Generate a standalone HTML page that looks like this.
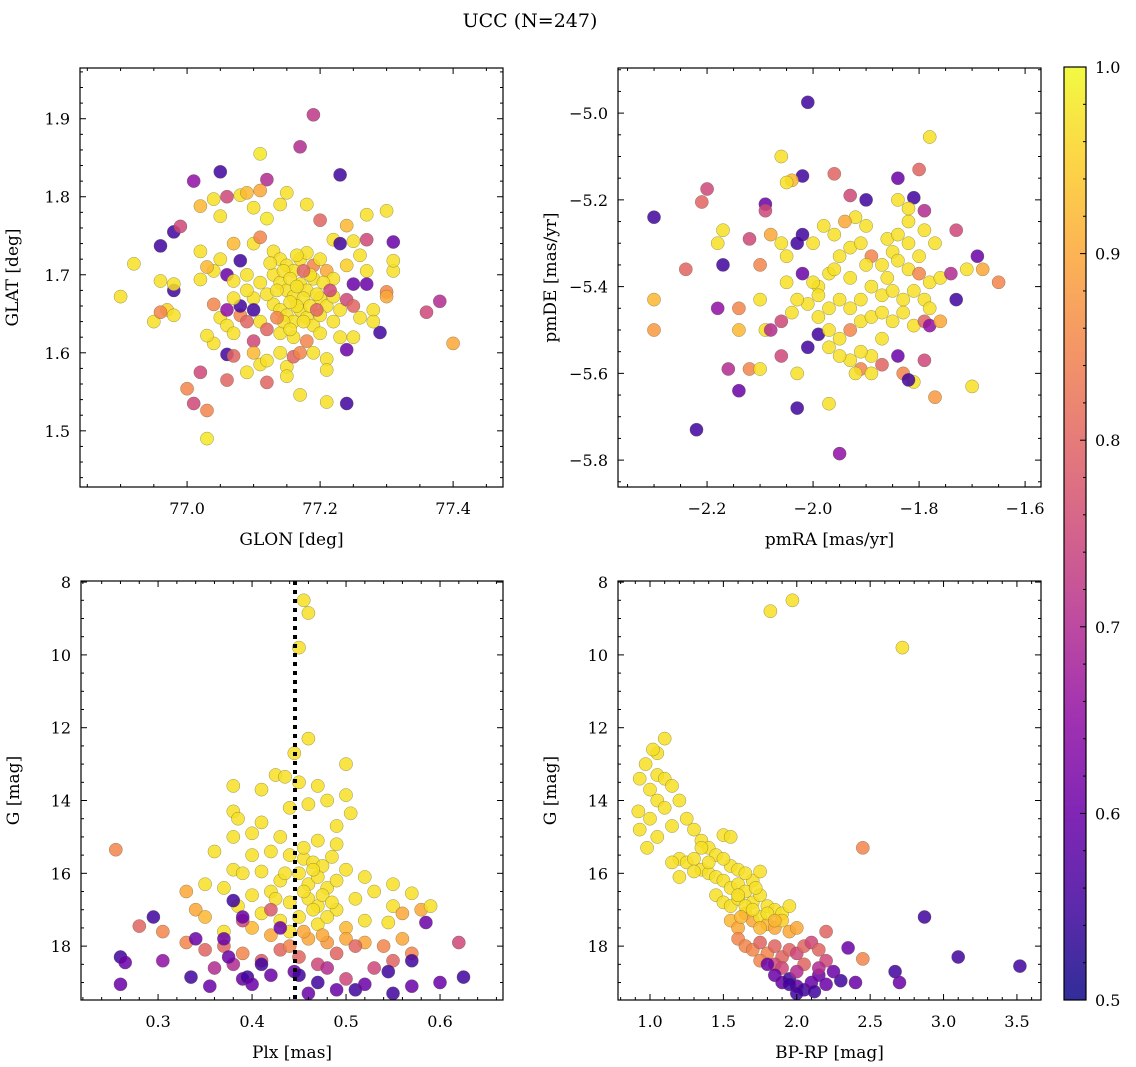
<!DOCTYPE html>
<html><head><meta charset="utf-8"><style>
html,body{margin:0;padding:0;background:#fff;}
svg{display:block;font-family:"DejaVu Serif","Liberation Serif",serif;}
</style></head><body>
<svg id="fig" width="1136" height="1067" viewBox="0 0 1136 1067" xmlns="http://www.w3.org/2000/svg">
<text x="530" y="27" font-size="19" text-anchor="middle">UCC (N=247)</text>
</svg>
<script>
// ---- Panel 1: GLON vs GLAT ----
const glonGlat = [[77.19,1.905,0.72],[77.17,1.864,0.7],[77.23,1.828,0.55],[77.05,1.832,0.55],[77.01,1.82,0.65],[77.11,1.855,0.98],[77.12,1.822,0.7],[76.96,1.737,0.55],[76.98,1.755,0.55],[76.99,1.762,0.75],[76.92,1.714,0.97],[76.9,1.672,0.97],[76.96,1.692,0.97],[76.95,1.64,0.97],[76.97,1.655,0.95],[76.98,1.648,0.97],[76.98,1.68,0.55],[76.96,1.652,0.85],[76.98,1.688,0.97],[77.0,1.554,0.85],[77.01,1.535,0.75],[77.02,1.575,0.75],[77.03,1.526,0.85],[77.03,1.49,0.98],[77.04,1.662,0.85],[77.06,1.598,0.55],[77.07,1.596,0.8],[77.06,1.565,0.8],[77.12,1.562,0.8],[77.36,1.652,0.75],[77.38,1.666,0.7],[77.4,1.612,0.9],[77.31,1.742,0.6],[77.3,1.782,0.97],[77.27,1.777,0.97],[77.24,1.535,0.55],[77.21,1.537,0.97],[77.17,1.546,0.97],[77.29,1.626,0.55],[77.31,1.705,0.97],[77.31,1.718,0.97],[77.3,1.678,0.85],[77.3,1.672,0.9],
[77.02,1.788,0.92],[77.04,1.797,0.97],[77.06,1.8,0.75],[77.08,1.802,0.97],[77.09,1.805,0.92],[77.11,1.808,0.9],[77.05,1.775,0.97],[77.1,1.786,0.97],[77.14,1.79,0.97],[77.12,1.772,0.98],[77.15,1.805,0.97],[77.2,1.77,0.8],[77.18,1.79,0.97],[77.24,1.763,0.92],[77.22,1.745,0.97],[77.25,1.743,0.97],[77.23,1.74,0.55],[77.27,1.745,0.75],[77.26,1.725,0.97],[77.27,1.705,0.97],[77.24,1.712,0.95],[77.25,1.688,0.6],[77.02,1.73,0.97],[77.04,1.705,0.97],[77.05,1.72,0.97],[77.08,1.718,0.55],[77.09,1.7,0.97],[77.1,1.74,0.97],[77.11,1.748,0.85],[77.07,1.74,0.92],[77.13,1.73,0.97],[77.06,1.7,0.6],[77.07,1.692,0.97],[77.03,1.71,0.92],[77.02,1.694,0.97],
[77.14,1.72,0.97],[77.15,1.712,0.97],[77.16,1.705,0.97],[77.17,1.72,0.97],[77.18,1.728,0.97],[77.19,1.712,0.85],[77.2,1.72,0.97],[77.21,1.705,0.9],[77.22,1.695,0.97],[77.13,1.7,0.97],[77.14,1.69,0.97],[77.15,1.68,0.97],[77.16,1.672,0.97],[77.17,1.688,0.97],[77.18,1.68,0.97],[77.19,1.695,0.97],[77.2,1.67,0.97],[77.21,1.66,0.97],[77.22,1.672,0.97],[77.13,1.662,0.97],[77.14,1.655,0.97],[77.15,1.648,0.97],[77.16,1.64,0.97],[77.17,1.655,0.97],[77.18,1.645,0.97],[77.19,1.635,0.97],[77.2,1.648,0.97],[77.12,1.675,0.97],[77.11,1.69,0.97],[77.1,1.67,0.97],[77.1,1.655,0.55],[77.11,1.64,0.97],[77.12,1.63,0.8],[77.14,1.625,0.97],[77.16,1.62,0.97],[77.18,1.615,0.85],[77.2,1.625,0.97],[77.22,1.64,0.97],[77.23,1.655,0.97],[77.24,1.668,0.75],[77.25,1.66,0.8],[77.26,1.645,0.97],[77.23,1.62,0.97],[77.24,1.604,0.6],[77.25,1.62,0.97],[77.28,1.655,0.97],[77.28,1.64,0.97],[77.27,1.688,0.6],
[77.05,1.645,0.97],[77.06,1.635,0.97],[77.07,1.625,0.97],[77.06,1.655,0.65],[77.08,1.648,0.85],[77.08,1.66,0.55],[77.09,1.64,0.8],[77.1,1.615,0.75],[77.1,1.6,0.92],[77.11,1.585,0.97],[77.12,1.59,0.97],[77.14,1.6,0.97],[77.15,1.582,0.97],[77.16,1.595,0.8],[77.17,1.6,0.85],[77.19,1.6,0.97],[77.21,1.592,0.97],[77.21,1.578,0.97],[77.15,1.57,0.97],[77.09,1.575,0.97],[77.04,1.612,0.97],[77.03,1.622,0.97],[77.07,1.67,0.97],[77.09,1.68,0.97],
[77.145,1.705,0.97],[77.155,1.695,0.97],[77.165,1.685,0.97],[77.175,1.67,0.97],[77.185,1.66,0.97],[77.195,1.675,0.97],[77.165,1.66,0.97],[77.155,1.665,0.97],[77.175,1.64,0.97],[77.145,1.64,0.97],[77.135,1.68,0.97],[77.125,1.715,0.97],[77.205,1.69,0.97],[77.185,1.7,0.97],[77.165,1.725,0.97],[77.155,1.63,0.97],[77.135,1.645,0.85],[77.195,1.655,0.8],[77.175,1.705,0.8],[77.215,1.68,0.75]];
// ---- Panel 2: pmRA vs pmDE ----
const pmraPmde = [[-2.01,-4.975,0.55],[-1.78,-5.055,0.97],[-2.3,-5.24,0.55],[-2.2,-5.175,0.75],[-2.21,-5.205,0.8],[-2.06,-5.1,0.97],[-2.02,-5.145,0.55],[-2.04,-5.155,0.92],[-2.05,-5.16,0.97],[-1.96,-5.14,0.8],[-1.84,-5.15,0.6],[-1.8,-5.13,0.8],[-1.81,-5.195,0.55],[-1.84,-5.2,0.97],[-1.79,-5.225,0.7],[-1.9,-5.2,0.55],[-1.93,-5.19,0.75],[-2.09,-5.21,0.6],[-2.09,-5.225,0.75],[-2.17,-5.27,0.97],[-2.18,-5.3,0.97],[-2.17,-5.35,0.55],[-2.1,-5.35,0.85],[-2.06,-5.3,0.97],[-2.05,-5.33,0.97],[-2.02,-5.28,0.55],[-2.03,-5.3,0.55],[-2.12,-5.29,0.75],[-2.08,-5.28,0.9],[-2.24,-5.36,0.8],[-2.3,-5.43,0.92],[-2.3,-5.5,0.88],[-2.18,-5.45,0.65],[-2.14,-5.45,0.85],[-2.14,-5.5,0.92],[-2.16,-5.59,0.7],[-2.14,-5.64,0.6],[-2.22,-5.73,0.55],[-2.12,-5.59,0.85],[-2.1,-5.59,0.97],[-2.09,-5.5,0.97],[-2.08,-5.5,0.7],[-2.1,-5.43,0.97],[-2.06,-5.56,0.75],[-2.03,-5.6,0.97],[-2.03,-5.68,0.55],[-1.95,-5.785,0.65],[-1.99,-5.51,0.55],[-2.01,-5.54,0.55],[-1.97,-5.67,0.97],[-1.99,-5.4,0.97],[-2.02,-5.37,0.6],[-2.0,-5.39,0.97],[-1.97,-5.37,0.97],[-1.95,-5.33,0.97],[-1.93,-5.31,0.97],[-1.91,-5.3,0.97],[-1.89,-5.33,0.85],[-1.87,-5.35,0.97],[-1.85,-5.32,0.97],[-1.84,-5.34,0.97],[-1.82,-5.36,0.97],[-1.8,-5.37,0.85],[-1.78,-5.39,0.97],[-1.76,-5.38,0.97],[-1.74,-5.37,0.7],[-1.71,-5.36,0.97],[-1.69,-5.33,0.6],[-1.68,-5.36,0.9],[-1.65,-5.39,0.85],[-1.73,-5.43,0.55],[-1.73,-5.27,0.75],[-1.77,-5.3,0.97],[-1.79,-5.27,0.97],[-1.82,-5.25,0.97],[-1.82,-5.3,0.97],[-1.86,-5.29,0.97],[-1.9,-5.26,0.97],[-1.92,-5.24,0.97],[-1.94,-5.25,0.9],[-1.96,-5.28,0.97],[-1.98,-5.26,0.97],[-2.0,-5.3,0.97],[-1.89,-5.4,0.97],[-1.87,-5.42,0.97],[-1.85,-5.41,0.97],[-1.83,-5.43,0.97],[-1.81,-5.41,0.97],[-1.79,-5.43,0.97],[-1.91,-5.43,0.97],[-1.93,-5.45,0.97],[-1.95,-5.43,0.97],[-1.97,-5.45,0.97],[-1.99,-5.47,0.97],[-1.97,-5.5,0.97],[-1.95,-5.52,0.97],[-1.93,-5.5,0.85],[-1.91,-5.48,0.97],[-1.89,-5.47,0.97],[-1.87,-5.46,0.97],[-1.85,-5.48,0.97],[-1.83,-5.46,0.97],[-1.81,-5.49,0.97],[-1.79,-5.48,0.8],[-1.78,-5.45,0.97],[-1.87,-5.52,0.97],[-1.89,-5.56,0.97],[-1.91,-5.55,0.97],[-1.93,-5.57,0.97],[-1.95,-5.56,0.97],[-1.97,-5.54,0.97],[-1.91,-5.59,0.85],[-1.89,-5.6,0.97],[-1.87,-5.58,0.8],[-1.84,-5.56,0.6],[-1.83,-5.6,0.85],[-1.81,-5.62,0.97],[-1.82,-5.615,0.55],[-1.79,-5.57,0.75],[-1.77,-5.655,0.88],[-1.7,-5.63,0.97],[-1.92,-5.6,0.97],[-1.99,-5.42,0.97],[-2.01,-5.44,0.97],[-2.03,-5.43,0.97],[-2.05,-5.39,0.97],[-2.04,-5.46,0.97],[-2.06,-5.48,0.75],[-1.86,-5.38,0.97],[-1.93,-5.38,0.97],[-1.96,-5.36,0.97],[-1.9,-5.35,0.97],[-1.8,-5.33,0.97],[-1.84,-5.28,0.97],[-1.82,-5.22,0.97],[-1.78,-5.49,0.65],[-1.76,-5.48,0.9]];
// ---- Panel 3: Plx vs G ----
const plxG = [[0.455,8.5,0.97],[0.46,8.85,0.97],[0.45,9.8,0.97],[0.445,12.7,0.97],[0.46,12.3,0.97],[0.5,13.0,0.97],[0.425,13.3,0.97],[0.435,13.35,0.97],[0.38,13.6,0.97],[0.41,13.7,0.97],[0.45,13.5,0.97],[0.47,13.6,0.97],[0.48,14.0,0.97],[0.38,14.3,0.97],[0.385,14.5,0.97],[0.44,14.2,0.97],[0.46,14.1,0.97],[0.5,13.85,0.97],[0.505,14.35,0.97],[0.49,14.7,0.97],[0.41,14.6,0.97],[0.4,14.9,0.97],[0.38,15.0,0.97],[0.43,15.0,0.97],[0.47,15.1,0.97],[0.49,15.2,0.97],[0.36,15.4,0.97],[0.4,15.5,0.97],[0.42,15.4,0.97],[0.44,15.5,0.97],[0.455,15.6,0.97],[0.465,15.7,0.97],[0.475,15.8,0.97],[0.485,15.55,0.97],[0.5,15.9,0.97],[0.38,15.9,0.97],[0.39,16.0,0.97],[0.41,15.95,0.97],[0.43,16.2,0.97],[0.45,16.0,0.97],[0.46,16.3,0.97],[0.47,16.1,0.97],[0.48,16.4,0.97],[0.49,16.2,0.97],[0.52,16.1,0.97],[0.53,16.5,0.97],[0.55,16.3,0.97],[0.57,16.55,0.97],[0.35,16.3,0.97],[0.37,16.4,0.97],[0.4,16.6,0.97],[0.42,16.5,0.97],[0.44,16.8,0.97],[0.46,16.7,0.97],[0.47,16.9,0.97],[0.49,17.0,0.97],[0.51,16.7,0.97],[0.55,16.9,0.97],[0.56,17.1,0.9],[0.58,17.0,0.9],[0.59,16.9,0.97],[0.385,16.9,0.97],[0.41,17.1,0.97],[0.43,17.3,0.97],[0.45,17.2,0.97],[0.47,17.4,0.97],[0.48,17.2,0.97],[0.5,17.5,0.92],[0.52,17.3,0.97],[0.545,17.35,0.97],[0.33,16.5,0.9],[0.34,17.0,0.9],[0.35,17.2,0.92],[0.37,17.6,0.97],[0.4,17.5,0.92],[0.42,17.7,0.9],[0.44,17.6,0.97],[0.46,17.8,0.9],[0.48,17.9,0.88],[0.5,17.8,0.9],[0.52,17.9,0.9],[0.54,18.0,0.85],[0.56,17.8,0.9],
[0.455,15.3,0.97],[0.465,15.9,0.97],[0.455,16.5,0.97],[0.475,16.6,0.97],[0.465,17.0,0.97],[0.455,17.6,0.9],[0.475,17.7,0.9],[0.485,16.8,0.97],[0.435,16.0,0.97],[0.425,16.7,0.97],
[0.255,15.35,0.85],[0.28,17.45,0.8],[0.305,17.6,0.85],[0.33,17.9,0.85],[0.35,18.1,0.8],[0.37,18.0,0.8],[0.39,18.2,0.85],[0.41,18.4,0.78],[0.43,18.1,0.8],[0.45,18.3,0.8],[0.47,18.5,0.75],[0.49,18.2,0.8],[0.51,18.0,0.8],[0.53,18.6,0.75],[0.55,18.4,0.8],[0.57,18.2,0.85],[0.62,17.9,0.75],[0.39,17.3,0.75],[0.42,17.0,0.78],[0.38,18.5,0.7],[0.36,18.6,0.7],[0.44,18.0,0.85],[0.5,18.9,0.75],
[0.26,18.3,0.55],[0.265,18.45,0.6],[0.26,19.05,0.6],[0.295,17.2,0.55],[0.305,18.4,0.65],[0.335,18.85,0.55],[0.34,17.8,0.6],[0.355,19.1,0.6],[0.37,17.8,0.6],[0.375,18.3,0.6],[0.39,18.9,0.6],[0.395,18.85,0.55],[0.41,18.5,0.55],[0.38,16.75,0.55],[0.39,17.2,0.6],[0.43,17.5,0.6],[0.445,18.7,0.6],[0.45,18.8,0.55],[0.46,19.3,0.6],[0.47,19.0,0.55],[0.48,18.6,0.7],[0.49,19.2,0.6],[0.51,19.2,0.55],[0.52,19.05,0.6],[0.545,18.7,0.55],[0.55,19.3,0.55],[0.57,18.4,0.55],[0.57,19.1,0.6],[0.6,19.0,0.6],[0.625,18.85,0.55],[0.585,17.35,0.6],[0.42,18.8,0.6],[0.4,19.05,0.6]];
const plxMedian = [0.4457];
// ---- Panel 4: BP-RP vs G ----
const bprpG = [[1.82,8.8,0.97],[1.97,8.5,0.97],[2.72,9.8,0.97],[1.1,12.3,0.97],[1.05,12.7,0.97],[1.02,12.6,0.97],[0.97,13.0,0.97],[0.93,13.4,0.97],[1.05,13.3,0.97],[1.1,13.4,0.97],[1.15,13.6,0.97],[1.0,13.7,0.97],[1.05,14.0,0.97],[0.92,14.3,0.97],[0.93,14.8,0.97],[1.0,14.5,0.97],[1.1,14.2,0.97],[1.2,14.0,0.97],[1.15,14.7,0.97],[1.25,14.5,0.97],[1.3,14.8,0.97],[1.05,15.0,0.97],[0.98,15.3,0.97],[1.35,15.1,0.97],[1.4,15.3,0.97],[1.5,14.95,0.97],[1.55,15.0,0.97],[1.45,15.5,0.97],[1.2,15.6,0.97],[1.25,15.7,0.97],[1.3,15.6,0.97],[1.15,15.7,0.97],[1.35,15.9,0.97],[1.4,16.0,0.97],[1.45,16.1,0.97],[1.55,15.8,0.97],[1.6,15.9,0.97],[1.5,16.2,0.97],[1.55,16.4,0.97],[1.6,16.3,0.97],[1.65,16.5,0.97],[1.7,16.2,0.97],[1.2,16.1,0.97],[1.45,16.6,0.97],[1.5,16.8,0.97],[1.55,16.9,0.97],[1.6,16.7,0.97],[1.7,16.8,0.97],[1.75,16.6,0.97],[1.8,16.9,0.97],[1.85,17.0,0.97],[1.9,17.1,0.97],[1.95,16.9,0.97],[1.65,17.1,0.92],[1.7,17.3,0.9],[1.75,17.2,0.97],[1.8,17.4,0.92],[1.55,17.3,0.92],[1.6,17.5,0.9],[1.85,17.5,0.9],[1.9,17.3,0.95],[1.95,17.6,0.9],[2.0,17.5,0.9],[1.65,16.0,0.97],[1.75,15.95,0.97],[1.5,15.6,0.97],[1.35,15.3,0.97],
[1.6,16.6,0.97],[1.65,16.9,0.97],[1.7,17.0,0.97],[1.75,17.5,0.92],[1.8,17.1,0.97],[1.85,17.3,0.92],[1.62,17.2,0.92],[1.72,16.4,0.97],[1.4,15.7,0.97],[1.3,15.95,0.97],
[2.45,15.3,0.85],[2.2,17.6,0.8],[2.45,18.35,0.85],[1.6,17.8,0.85],[1.65,18.0,0.85],[1.7,18.1,0.85],[1.75,17.9,0.8],[1.8,18.2,0.85],[1.85,18.0,0.8],[1.9,18.3,0.8],[1.95,18.1,0.8],[2.0,18.2,0.75],[2.05,18.0,0.8],[2.1,17.9,0.75],[2.15,18.1,0.8],[1.85,18.5,0.75],[1.9,18.6,0.75],[2.2,18.4,0.75],[2.05,18.5,0.8],[1.75,18.4,0.85],
[2.87,17.2,0.55],[3.1,18.3,0.55],[3.52,18.55,0.55],[2.67,18.7,0.55],[2.7,19.0,0.6],[1.85,18.8,0.6],[1.9,19.0,0.6],[1.95,18.9,0.55],[2.0,19.1,0.6],[2.05,19.2,0.55],[2.1,19.0,0.6],[2.15,18.8,0.6],[2.2,19.05,0.6],[2.3,18.95,0.55],[2.35,18.05,0.6],[2.12,19.25,0.55],[2.0,19.3,0.55],[1.95,19.05,0.55],[1.8,18.5,0.6],[2.25,18.7,0.6],[2.4,19.0,0.6],[2.15,18.6,0.7],[2.0,18.7,0.7]];

// Tick arrays
const glonTicks = ["77.0","77.2","77.4"];
const glatTicks = ["1.5","1.6","1.7","1.8","1.9"];
const pmraTicks = ["-2.2","-2.0","-1.8","-1.6"];
const pmdeTicks = ["-5.8","-5.6","-5.4","-5.2","-5.0"];
const plxTicks = ["0.3","0.4","0.5","0.6"];
const gTicks = ["8","10","12","14","16","18"];
const bprpTicks = ["1.0","1.5","2.0","2.5","3.0","3.5"];
const cbarTicks = ["0.5","0.6","0.7","0.8","0.9","1.0"];

const NS="http://www.w3.org/2000/svg";
const svg=document.getElementById('fig');
function mk(tag,attrs,parent){const e=document.createElementNS(NS,tag);for(const k in attrs)e.setAttribute(k,attrs[k]);(parent||svg).appendChild(e);return e;}
const stops=[[0,[13,8,135]],[0.1,[65,4,157]],[0.2,[106,0,168]],[0.3,[143,13,164]],[0.4,[177,42,144]],[0.5,[204,71,120]],[0.6,[225,100,98]],[0.7,[242,132,75]],[0.8,[252,166,54]],[0.9,[252,206,37]],[1,[240,249,33]]];
function plasma(t){t=Math.max(0,Math.min(1,t));for(let i=1;i<stops.length;i++){if(t<=stops[i][0]){const a=stops[i-1],b=stops[i];const f=(t-a[0])/(b[0]-a[0]);const c=a[1].map((v,j)=>Math.round(v+(b[1][j]-v)*f));return `rgb(${c[0]},${c[1]},${c[2]})`;}}return 'rgb(240,249,33)';}
function pcol(p){return plasma((p-0.5)/0.5);}
function fmt(s){return s.replace('-','\u2212');}

function panel(o){
  const g=mk('g',{});
  
  
  const sx=v=>o.x0+(v-o.xmin)/(o.xmax-o.xmin)*(o.x1-o.x0);
  const sy=v=>o.inv? o.y0+(v-o.ymin)/(o.ymax-o.ymin)*(o.y1-o.y0) : o.y1-(v-o.ymin)/(o.ymax-o.ymin)*(o.y1-o.y0);
  const pg=mk('g',{},g);
  
  
  for(const d of o.data){
    const c=mk('circle',{cx:sx(d[0]).toFixed(1),cy:sy(d[1]).toFixed(1),r:6.6,fill:pcol(d[2]),'fill-opacity':0.85,stroke:'#5a5a3a','stroke-width':0.5,'stroke-opacity':0.6},pg);
    
    
  }
  if(o.vline){for(const v of o.vline){const l=mk('line',{x1:sx(v),x2:sx(v),y1:o.y0,y2:o.y1,stroke:'#000','stroke-width':4,'stroke-dasharray':'4,5'},g);
    
    }}
  const fr=mk('rect',{x:o.x0,y:o.y0,width:o.x1-o.x0,height:o.y1-o.y0,fill:'none',stroke:'#000','stroke-width':1.2},g);
  
  
  const xt=o.xticks.map(Number);const xstep=xt[1]-xt[0];const xm=xstep/o.xminor;
  for(let v=Math.ceil(o.xmin/xm)*xm;v<=o.xmax+1e-9;v+=xm){const X=sx(v);const major=xt.some(t=>Math.abs(t-v)<xm/10);const L=major?6:3;
    mk('line',{x1:X,x2:X,y1:o.y1,y2:o.y1-L,stroke:'#000','stroke-width':1},g);mk('line',{x1:X,x2:X,y1:o.y0,y2:o.y0+L,stroke:'#000','stroke-width':1},g);}
  o.xticks.forEach(t=>{const tx=mk('text',{x:sx(Number(t)),y:o.y1+27,'font-size':16,'text-anchor':'middle'},g);tx.textContent=fmt(t);
    
    });
  const yt=o.yticks.map(Number);const ystep=Math.abs(yt[1]-yt[0]);const ym=ystep/o.yminor;
  for(let v=Math.ceil(o.ymin/ym)*ym;v<=o.ymax+1e-9;v+=ym){const Y=sy(v);const major=yt.some(t=>Math.abs(t-v)<ym/10);const L=major?6:3;
    mk('line',{x1:o.x0,x2:o.x0+L,y1:Y,y2:Y,stroke:'#000','stroke-width':1},g);mk('line',{x1:o.x1,x2:o.x1-L,y1:Y,y2:Y,stroke:'#000','stroke-width':1},g);}
  o.yticks.forEach(t=>{const tx=mk('text',{x:o.x0-10,y:sy(Number(t))+6,'font-size':16,'text-anchor':'end'},g);tx.textContent=fmt(t);
    
    });
  const xl=mk('text',{x:(o.x0+o.x1)/2,y:o.y1+58,'font-size':17,'text-anchor':'middle'},g);xl.textContent=o.xlabel;
  
  
  const yx=o.x0-62,yy=(o.y0+o.y1)/2;
  const yl=mk('text',{x:yx,y:yy,'font-size':17,'text-anchor':'middle',transform:`rotate(-90 ${yx} ${yy})`},g);yl.textContent=o.ylabel;
  
  
}
panel({name:'glon-glat-panel',data:glonGlat,x0:80,x1:503,y0:68,y1:487,xmin:76.839,xmax:77.475,ymin:1.428,ymax:1.965,xticks:glonTicks,yticks:glatTicks,xminor:4,yminor:5,xlabel:'GLON [deg]',ylabel:'GLAT [deg]'});
panel({name:'pm-panel',data:pmraPmde,x0:618,x1:1041,y0:68,y1:487,xmin:-2.368,xmax:-1.570,ymin:-5.862,ymax:-4.896,xticks:pmraTicks,yticks:pmdeTicks,xminor:4,yminor:4,xlabel:'pmRA [mas/yr]',ylabel:'pmDE [mas/yr]'});
panel({name:'plx-g-panel',data:plxG,vline:plxMedian,inv:true,x0:81,x1:503,y0:581,y1:1000,xmin:0.218,xmax:0.667,ymin:7.97,ymax:19.48,xticks:plxTicks,yticks:gTicks,xminor:5,yminor:4,xlabel:'Plx [mas]',ylabel:'G [mag]'});
panel({name:'cmd-panel',data:bprpG,inv:true,x0:618,x1:1041,y0:581,y1:1000,xmin:0.782,xmax:3.664,ymin:7.97,ymax:19.48,xticks:bprpTicks,yticks:gTicks,xminor:5,yminor:4,xlabel:'BP-RP [mag]',ylabel:'G [mag]'});

const cb=mk('g',{});


const defs=mk('defs',{},cb);const lg=mk('linearGradient',{id:'cbg',x1:0,y1:1,x2:0,y2:0},defs);
for(let i=0;i<=20;i++){mk('stop',{offset:i/20,'stop-color':plasma(i/20),'stop-opacity':0.85},lg);}
const cy0=67,cy1=1000,cx0=1064,cx1=1086;
mk('rect',{x:cx0,y:cy0,width:cx1-cx0,height:cy1-cy0,fill:'url(#cbg)',stroke:'#000','stroke-width':1.2},cb);
const cys=v=>cy1-(v-0.5)/0.5*(cy1-cy0);
for(let v=0.5;v<=1.0001;v+=0.02){const Y=cys(v);const major=Math.abs(v*10-Math.round(v*10))<0.01;mk('line',{x1:cx1,x2:cx1-(major?6:3),y1:Y,y2:Y,stroke:'#000','stroke-width':1},cb);}
cbarTicks.forEach(t=>{const tx=mk('text',{x:1095,y:cys(Number(t))+6,'font-size':16},cb);tx.textContent=t;
  
  });
</script>
</body></html>
